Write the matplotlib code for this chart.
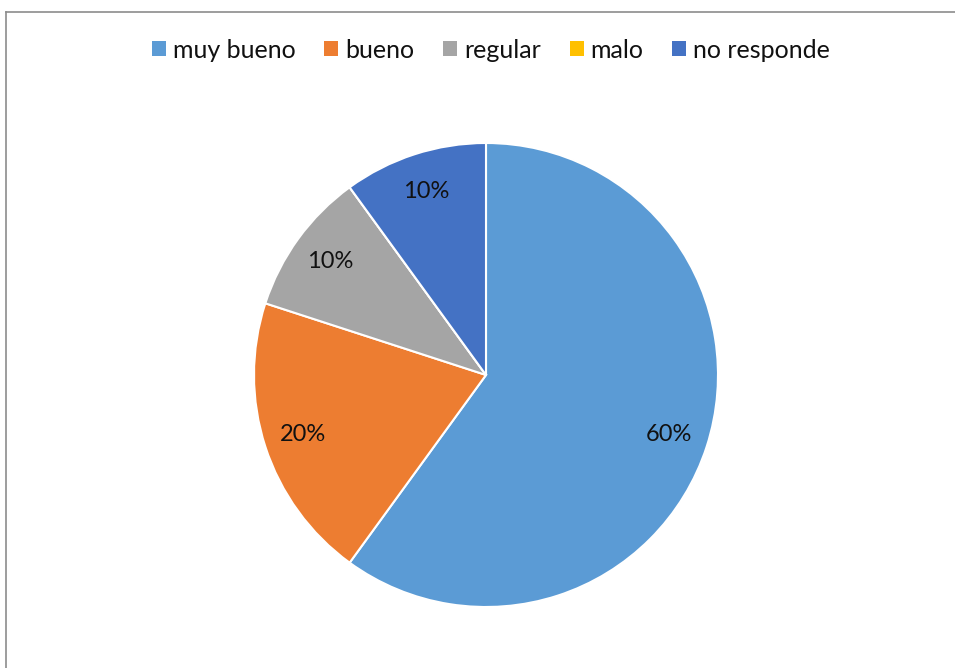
import matplotlib
matplotlib.use("Agg")
import matplotlib.pyplot as plt
from matplotlib.lines import Line2D

categories = ["muy bueno", "bueno", "regular", "malo", "no responde"]
values = [60, 20, 10, 0, 10]
colors = ["#5B9BD5", "#ED7D31", "#A5A5A5", "#FFC000", "#4472C4"]

plt.rcParams['font.family'] = ['Lato', 'DejaVu Sans']

W, H = 955, 668
fig = plt.figure(figsize=(W / 100, H / 100), dpi=100)
fig.patch.set_facecolor("white")

cx, cy, r = 486, 375, 232
ax = fig.add_axes([(cx - r) / W, (H - cy - r) / H, 2 * r / W, 2 * r / H])

def fmt(p):
    return f"{p:.0f}%" if p > 0.5 else ""

wedges, texts, autotexts = ax.pie(
    values, colors=colors, startangle=90, counterclock=False,
    autopct=fmt, pctdistance=0.83,
    wedgeprops=dict(edgecolor="white", linewidth=1.5),
    textprops=dict(fontsize=17, color="#111111"),
)
ax.set_xlim(-1, 1)
ax.set_ylim(-1, 1)
ax.set_aspect("equal")
ax.axis("off")

handles = [plt.Rectangle((0, 0), 1, 1, facecolor=c, edgecolor="none") for c in colors]
fig.legend(handles, categories, loc="center", bbox_to_anchor=(491 / W, 1 - 50 / H),
           ncol=5, frameon=False, fontsize=18, handlelength=0.56, handleheight=0.56,
           handletextpad=0.28, columnspacing=1.15, labelcolor="#111111")

border = "#8c8c8c"
fig.add_artist(Line2D([6 / W, 1], [1 - 12 / H, 1 - 12 / H], color=border, linewidth=1.2,
                      transform=fig.transFigure))
fig.add_artist(Line2D([6 / W, 6 / W], [0, 1 - 12 / H], color=border, linewidth=1.2,
                      transform=fig.transFigure))

fig.savefig("out.png", dpi=100)
